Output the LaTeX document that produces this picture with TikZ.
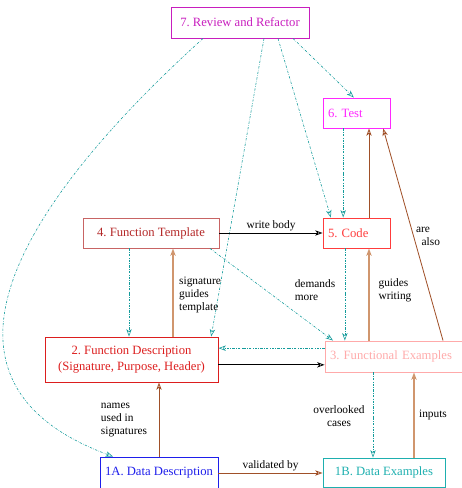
\documentclass[tikz,border=0pt]{standalone}
\usepackage{fontspec}
\setmainfont{Liberation Serif}
\usepackage{xcolor}
\usetikzlibrary{arrows.meta}

\definecolor{revc}{RGB}{200,30,190}
\definecolor{testc}{RGB}{255,40,255}
\definecolor{codec}{RGB}{255,60,60}
\definecolor{tmplc}{RGB}{180,40,40}
\definecolor{tmplb}{RGB}{200,100,100}
\definecolor{descc}{RGB}{220,30,30}
\definecolor{fexc}{RGB}{255,170,170}
\definecolor{ddc}{RGB}{30,30,235}
\definecolor{dexc}{RGB}{30,175,175}
\definecolor{tealc}{RGB}{20,155,155}
\definecolor{brownc}{RGB}{160,80,40}
\definecolor{tanc}{RGB}{208,150,110}
\frenchspacing

\begin{document}
\begin{tikzpicture}[font=\fontsize{10.8pt}{13.6pt}\selectfont,
  box/.style={draw,line width=0.8pt,inner sep=0.15cm,minimum height=0.9cm},
  lbl/.style={font=\fontsize{9.7pt}{11.2pt}\selectfont,text=black,inner sep=1pt,align=left},
  tip/.style={-{Stealth[open,length=2.2mm,width=1.6mm,inset=0.6mm]}},
  back/.style={tip,tealc,line width=0.5pt,dash pattern=on 2pt off 1.2pt on 0.4pt off 1.2pt},
  feed/.style={tip,brownc,line width=0.7pt},
  lite/.style={tip,tanc,line width=1.1pt},
  plain/.style={tip,black,line width=0.7pt}]
  \useasboundingbox (0,0) rectangle (13.83,14.64);
  %% boxes
  \node[box,draw=revc,text=revc,minimum width=4.14cm,minimum height=0.93cm] (rev) at (7.20,13.965) {7. Review and Refactor};
  \node[box,draw=testc,text=testc,text width=1.71cm,align=left] (test) at (10.695,11.25) {6. Test};
  \node[box,draw=codec,text=codec,text width=1.71cm,align=left] (code) at (10.695,7.65) {5. Code};
  \node[box,draw=tmplb,text=tmplc,minimum width=4.08cm] (tmpl) at (4.53,7.65) {4. Function Template};
  \node[box,draw=descc,text=descc,minimum width=5.19cm,minimum height=1.35cm,align=center] (desc) at (3.945,3.855)
    {2. Function Description\\(Signature, Purpose, Header)};
  \node[box,draw=fexc,text=fexc,text width=3.84cm,minimum height=0.93cm,align=left] (fex) at (11.82,3.945) {3. Functional Examples};
  \node[box,draw=ddc,text=ddc,minimum width=3.54cm,minimum height=0.96cm] (dd) at (4.77,0.45) {1A. Data Description};
  \node[box,draw=dexc,text=dexc,minimum width=3.66cm,minimum height=0.87cm] (dex) at (11.52,0.465) {1B. Data Examples};
  %% review links
  \draw[back] ([xshift=1.59cm]rev.south) -- ([xshift=-0.08cm]test.north);
  \draw[back] ([xshift=1.14cm]rev.south) -- ([xshift=-0.77cm]code.north);
  \draw[back] ([xshift=0.72cm]rev.south) -- ([xshift=2.39cm]desc.north);
  \draw[back] ([xshift=-1.11cm]rev.south) .. controls (-0.12,7.86) and (-2.25,3.03) .. ([xshift=-1.38cm]dd.north);
  %% test and code
  \draw[back] ([xshift=-0.4cm]test.south) -- ([xshift=-0.4cm]code.north);
  \draw[feed] ([xshift=0.375cm]code.north) -- ([xshift=0.375cm]test.south);
  \draw[feed] ([xshift=1.47cm]fex.north) -- ([xshift=0.8cm]test.south);
  \node[lbl] (also) at (12.84,7.56) {are\\\ \ also};
  \draw[plain] (tmpl.east) -- node[lbl,above] (body) {write body} (code.west);
  %% template and description
  \draw[lite] ([xshift=0.66cm]tmpl.south |- desc.north) -- ([xshift=0.66cm]tmpl.south);
  \node[lbl] (sig) at (6.0,5.79) {signature\\guides\\template};
  \draw[back] ([xshift=-0.66cm]tmpl.south) -- ([xshift=-0.66cm]tmpl.south |- desc.north);
  \draw[back] ([xshift=1.77cm]tmpl.south) -- ([xshift=-1.83cm]fex.north);
  \node[lbl] (more) at (9.45,5.94) {demands\\more};
  %% code and examples
  \draw[back] ([xshift=-0.35cm]code.south) -- ([xshift=-0.35cm]code.south |- fex.north);
  \draw[lite] ([xshift=0.375cm]code.south |- fex.north) -- ([xshift=0.375cm]code.south);
  \node[lbl] (guide) at (11.85,5.94) {guides\\writing};
  \draw[back] ([yshift=0.25cm]fex.west) -- ([yshift=0.25cm]fex.west -| desc.east);
  \draw[plain] ([yshift=-0.25cm]fex.west -| desc.east) -- ([yshift=-0.25cm]fex.west);
  %% data
  \draw[feed] (dd.north) -- (dd.north |- desc.south);
  \node[lbl] (names) at (3.72,2.04) {names\\used in\\signatures};
  \draw[back] ([xshift=-0.33cm]dex.north |- fex.south) -- ([xshift=-0.33cm]dex.north);
  \node[lbl,align=center] (cases) at (10.17,2.16) {overlooked\\cases};
  \draw[lite] ([xshift=0.9cm]dex.north) -- ([xshift=0.9cm]dex.north |- fex.south);
  \node[lbl] (inputs) at (12.99,2.19) {inputs};
  \draw[feed] (dd.east) -- node[lbl,above] (valid) {validated by} (dd.east -| dex.west);
\end{tikzpicture}
\end{document}
